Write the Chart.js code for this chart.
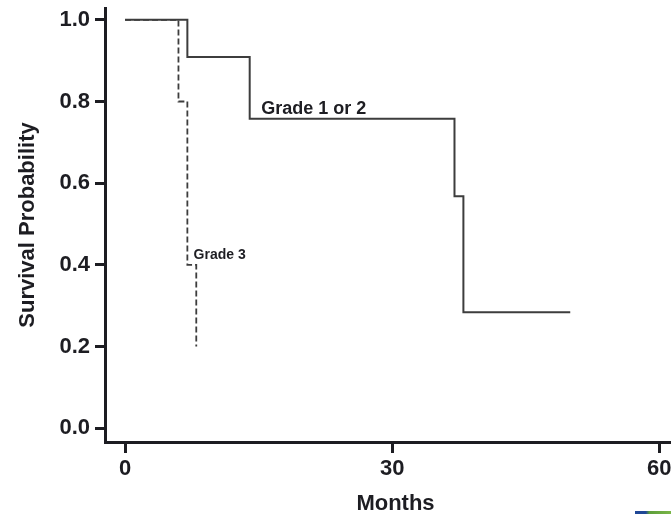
<!DOCTYPE html>
<html>
<head>
<meta charset="utf-8">
<script src="https://cdn.jsdelivr.net/npm/chart.js@4.4.1/dist/chart.umd.min.js"></script>
<style>
    html, body { margin: 0; padding: 0; background: #fff; overflow: hidden; }
    #km { display: block; }
</style>
</head>
<body>
<canvas id="km" width="720" height="514"></canvas>
<script>
// ---- data ----
const curveNames = ['Grade 1 or 2', 'Grade 3'];
const lowGradeMonths = [0, 7, 14, 37, 38, 50];
const lowGradeSurvival = [1.0, 0.909, 0.758, 0.568, 0.284, 0.284];
const highGradeMonths = [0, 6, 7, 8];
const highGradeSurvival = [1.0, 0.8, 0.4, 0.2];
const xTicks = [0, 30, 60];
const yTicks = [0, 0.2, 0.4, 0.6, 0.8, 1.0];

const INK = '#1d1d22';
const LINE = '#3d3d3d';
const FONT = '"Liberation Sans", Arial, Helvetica, sans-serif';

const toPoints = (xs, ys) => xs.map((m, i) => ({ x: m, y: ys[i] }));

// text labels next to the curves
const curveLabels = {
    id: 'curveLabels',
    afterDatasetsDraw(chart) {
        const { ctx } = chart;
        const { x, y } = chart.scales;
        ctx.save();
        ctx.fillStyle = INK;
        ctx.textBaseline = 'alphabetic';
        ctx.textAlign = 'left';
        ctx.font = `bold 18px ${FONT}`;
        ctx.fillText(curveNames[0], x.getPixelForValue(15.3), y.getPixelForValue(0.77));
        ctx.font = `bold 14px ${FONT}`;
        ctx.fillText(curveNames[1], x.getPixelForValue(7.7), y.getPixelForValue(0.413));
        ctx.restore();
    },
};

// small coloured strip cut off at the bottom right of the scan
const cornerStrip = {
    id: 'cornerStrip',
    afterDraw(chart) {
        const { ctx } = chart;
        const g = ctx.createLinearGradient(635, 0, 671, 0);
        g.addColorStop(0, '#1f4796');
        g.addColorStop(0.3, '#1f4796');
        g.addColorStop(0.4, '#5d9e3a');
        g.addColorStop(1, '#7ab648');
        ctx.save();
        ctx.fillStyle = g;
        ctx.fillRect(635, 511, 36, 3);
        ctx.restore();
    },
};

const ctx = document.getElementById('km').getContext('2d');
const chart = new Chart(ctx, {
    type: 'line',
    data: {
        datasets: [
            {
                label: curveNames[0],
                data: toPoints(lowGradeMonths, lowGradeSurvival),
                stepped: 'before',
                borderColor: LINE,
                borderWidth: 2,
                pointRadius: 0,
                fill: false,
                order: 1,
            },
            {
                label: curveNames[1],
                data: toPoints(highGradeMonths, highGradeSurvival),
                stepped: 'before',
                borderColor: LINE,
                borderWidth: 1.8,
                borderDash: [6, 3],
                pointRadius: 0,
                fill: false,
                order: 2,
            },
        ],
    },
    options: {
        responsive: false,
        animation: false,
        devicePixelRatio: 1,
        layout: {
            padding: { top: 8, right: 34, bottom: 0, left: 0 },
        },
        plugins: {
            legend: { display: false },
            tooltip: { enabled: false },
            title: { display: false },
        },
        scales: {
            x: {
                type: 'linear',
                min: -2.25,
                max: 63,
                afterBuildTicks(scale) {
                    scale.ticks = xTicks.map((v) => ({ value: v }));
                },
                afterFit(scale) {
                    scale.height = 72;
                    scale.paddingLeft = 0;
                    scale.paddingRight = 0;
                },
                ticks: {
                    color: INK,
                    padding: 3,
                    autoSkip: false,
                    maxRotation: 0,
                    font: { family: FONT, size: 22, weight: 'bold' },
                    callback: (v) => String(v),
                },
                grid: {
                    drawOnChartArea: false,
                    drawTicks: true,
                    tickLength: 11,
                    tickWidth: 3,
                    tickColor: INK,
                },
                border: { display: true, color: INK, width: 3 },
                title: {
                    display: true,
                    text: 'Months',
                    color: INK,
                    font: { family: FONT, size: 22, weight: 'bold' },
                    padding: { top: 0, bottom: -3 },
                },
            },
            y: {
                type: 'linear',
                min: -0.034,
                max: 1.029,
                afterBuildTicks(scale) {
                    scale.ticks = yTicks.map((v) => ({ value: v }));
                },
                afterFit(scale) {
                    scale.width = 105;
                    scale.paddingTop = 0;
                    scale.paddingBottom = 0;
                },
                ticks: {
                    color: INK,
                    padding: 5,
                    font: { family: FONT, size: 22, weight: 'bold' },
                    callback: (v) => Number(v).toFixed(1),
                },
                grid: {
                    drawOnChartArea: false,
                    drawTicks: true,
                    tickLength: 10,
                    tickWidth: 3,
                    tickColor: INK,
                },
                border: { display: true, color: INK, width: 3 },
                title: {
                    display: true,
                    text: 'Survival Probability',
                    color: INK,
                    font: { family: FONT, size: 22, weight: 'bold' },
                    padding: { top: 15, bottom: 0 },
                },
            },
        },
    },
    plugins: [curveLabels, cornerStrip],
});
</script>
</body>
</html>
